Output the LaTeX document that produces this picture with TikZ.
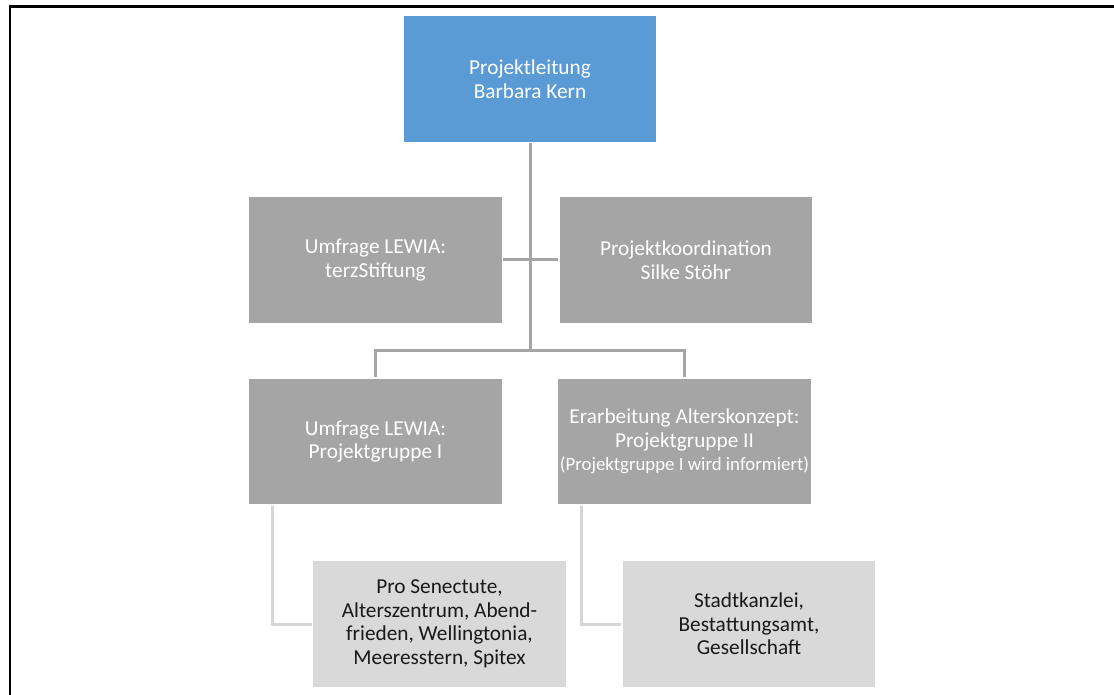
\documentclass[tikz,border=0pt]{standalone}
\usepackage{fontspec}
\setmainfont{Carlito}
\usetikzlibrary{positioning}

\definecolor{leadblue}{HTML}{5B9BD5}
\definecolor{boxgrey}{HTML}{A5A5A5}
\definecolor{palegrey}{HTML}{D9D9D9}
\definecolor{palelink}{HTML}{D6D6D6}

\begin{document}
\begin{tikzpicture}[x=1pt, y={(0pt,-1pt)},
    orgbox/.style={draw=white, line width=1.5pt, inner sep=0pt,
      minimum width=254pt, minimum height=127pt, align=center,
      font=\fontsize{21.3}{23.5}\selectfont},
    headbox/.style={orgbox, fill=leadblue, text=white},
    unitbox/.style={orgbox, fill=boxgrey, text=white},
    partnerbox/.style={orgbox, fill=palegrey, text=black!90},
    mainlink/.style={draw=boxgrey, line width=3pt},
    sidelink/.style={draw=palelink, line width=3pt}]
    \useasboundingbox (0,0) rectangle (1114,695);

    \draw[line width=2.5pt] (10,695) -- (10,6.5) -- (1114,6.5);

    \node[headbox] (lead) at (530,79) {Projektleitung\\Barbara Kern};

    \node[unitbox] (terz) at (375.5,260) {Umfrage LEWIA:\\terzStiftung};
    \node[unitbox] (koord) at (686,260) {Projektkoordination\\Silke Stöhr};

    \node[unitbox] (pg1) at (375.5,441.5) {Umfrage LEWIA:\\Projektgruppe I};
    \node[unitbox] (pg2) at (684.5,441.5) {Erarbeitung Alterskonzept:\\Projektgruppe II\\
      {\fontsize{18.8}{21}\selectfont (Projektgruppe I wird informiert)}};

    \node[partnerbox] (partner1) at (439.5,624) {Pro Senectute,\\Alterszentrum, Abend-\\frieden, Wellingtonia,\\Meeresstern, Spitex};
    \node[partnerbox] (partner2) at (749,624) {Stadtkanzlei,\\Bestattungsamt,\\Gesellschaft};

    \coordinate (split) at (530,350);

    \draw[mainlink] (lead.south) -- (split);
    \draw[mainlink] (terz.east) -- (koord.west);
    \draw[mainlink] (pg1.north) |- (split) -| (pg2.north);

    \draw[sidelink] ([xshift=25pt]pg1.south west) |- (partner1.west);
    \draw[sidelink] ([xshift=25pt]pg2.south west) |- (partner2.west);
\end{tikzpicture}
\end{document}
